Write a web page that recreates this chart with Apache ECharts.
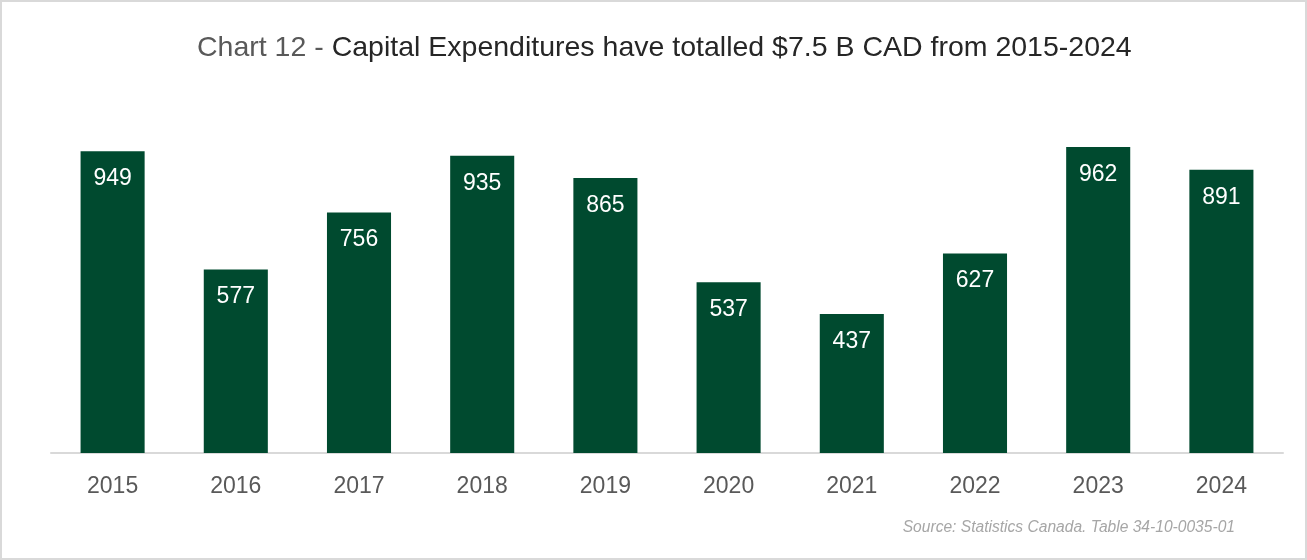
<!DOCTYPE html>
<html>
<head>
<meta charset="utf-8">
<script src="https://cdn.jsdelivr.net/npm/echarts@6/dist/echarts.min.js"></script>
<style>
  html, body { margin: 0; padding: 0; background: #ffffff; }
  #chart { width: 1307px; height: 560px; box-sizing: border-box; border: 2px solid #d9d9d9; }
</style>
</head>
<body>
<div id="chart"></div>
<script>
// Capital expenditures by year (millions CAD)
const years = ['2015', '2016', '2017', '2018', '2019', '2020', '2021', '2022', '2023', '2024'];
const capex = [949, 577, 756, 935, 865, 537, 437, 627, 962, 891];

const chart = echarts.init(document.getElementById('chart'), null, { renderer: 'canvas' });

chart.setOption({
  backgroundColor: '#ffffff',
  animation: false,
  textStyle: { fontFamily: 'Liberation Sans, Arial, sans-serif' },
  title: {
    text: '{a|Chart 12 - }{b|Capital Expenditures have totalled $7.5 B CAD from 2015-2024}',
    left: 190,
    top: 27,
    textStyle: {
      fontWeight: 'normal',
      rich: {
        a: { fontSize: 28.5, fontWeight: 'normal', color: '#595959', fontFamily: 'Liberation Sans, Arial, sans-serif' },
        b: { fontSize: 28.5, fontWeight: 'normal', color: '#262626', fontFamily: 'Liberation Sans, Arial, sans-serif' }
      }
    }
  },
  graphic: [{
    type: 'text',
    right: 70,
    top: 518,
    style: {
      text: 'Source: Statistics Canada. Table 34-10-0035-01',
      font: 'italic 15.6px Liberation Sans, Arial, sans-serif',
      fill: '#a6a6a6'
    }
  }],
  grid: { left: 49, right: 22, top: 133, bottom: 105, containLabel: false },
  xAxis: {
    type: 'category',
    data: years,
    axisLine: { lineStyle: { color: '#d9d9d9', width: 2 } },
    axisTick: { show: false },
    axisLabel: { color: '#595959', fontSize: 23, margin: 22 }
  },
  yAxis: {
    type: 'value',
    min: 0,
    max: 1000,
    show: false,
    splitLine: { show: false }
  },
  series: [{
    type: 'bar',
    data: capex,
    barWidth: '52%',
    itemStyle: { color: '#004a2f' },
    label: {
      show: true,
      position: 'insideTop',
      distance: 16,
      color: '#ffffff',
      fontSize: 23
    }
  }]
});
</script>
</body>
</html>
